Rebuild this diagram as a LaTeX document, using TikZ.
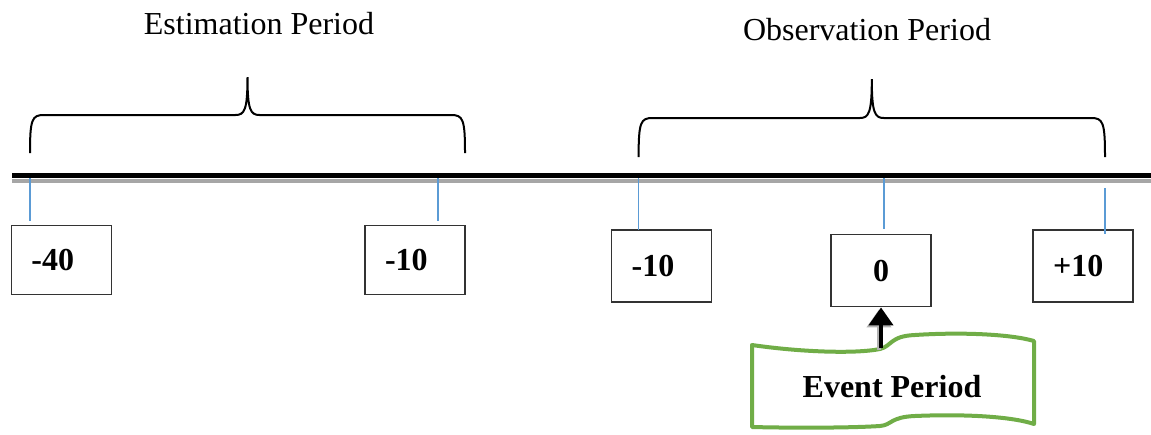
\documentclass[tikz,border=0pt]{standalone}
\usepackage{fontspec}
\setmainfont{Liberation Serif}
\usepackage{tikz}
\usetikzlibrary{positioning,arrows.meta}
\tikzstyle{timeline} = [x = 0.5pt, y = -0.5pt]
\definecolor{tickColor}{HTML}{5B9BD5}
\definecolor{eventColor}{HTML}{70AD47}
\tikzstyle{axisLine} = [color=black, line width=2.5pt]
\tikzstyle{axisShadow} = [color=black!35, line width=2pt]
\tikzstyle{tickLine} = [color=tickColor, line width=0.75pt]
\tikzstyle{braceLine} = [color=black, line width=1pt]
\tikzstyle{dayBox} = [draw=black!80, line width=0.6pt, text width=30pt, align=left, inner xsep=10pt, inner ysep=0pt, minimum height=36pt, font=\fontsize{16}{19}\selectfont\bfseries]
\tikzstyle{periodText} = [font=\fontsize{16}{19}\selectfont]
\tikzstyle{tapeStyle} = [draw=eventColor, fill=white, line width=2pt, line join=round]
\tikzstyle{eventText} = [font=\fontsize{16}{19}\selectfont\bfseries]
\tikzstyle{eventArrow} = [line width=2pt, -{Triangle[length=9pt, width=12pt]}]
\newcommand{\dayMark}[8]{
  \node [dayBox, #8] (#1) at (#2, #3) {#4};
  \coordinate (#1TickTop) at (#5, #6);
  \coordinate (#1TickEnd) at (#5, #7);
  \draw [tickLine] (#1TickTop) -- (#1TickEnd);
}
\newcommand{\periodBrace}[5]{
  \pgfmathsetmacro{\braceMid}{(#1 + #2) / 2}
  \draw [braceLine] (#1, #4) .. controls (#1, #3 + 4) and (#1 + 2, #3) .. (#1 + 14, #3)
    -- (\braceMid - 12, #3) .. controls (\braceMid - 3, #3) and (\braceMid, #3 - 5) .. (\braceMid, #5)
    .. controls (\braceMid, #3 - 5) and (\braceMid + 3, #3) .. (\braceMid + 12, #3)
    -- (#2 - 14, #3) .. controls (#2 - 2, #3) and (#2, #3 + 4) .. (#2, #4);
}
\begin{document}
\begin{tikzpicture}[timeline]
    \useasboundingbox (0, 0) rectangle (1151, 434);
    \node [periodText] (estimation) at (259, 24) {Estimation Period};
    \node [periodText] (observation) at (867, 30) {Observation Period};
    \periodBrace{30}{465}{115}{153}{77}
    \periodBrace{638.6}{1105}{118}{157}{79}
    \coordinate (axisStart) at (12, 180.5);
    \coordinate (axisEnd) at (1151, 180.5);
    \draw [axisShadow] (axisStart) -- (axisEnd);
    \draw [axisLine] ([yshift=2.5pt]axisStart) -- ([yshift=2.5pt]axisEnd);
    \dayMark{dayA}{61.5}{260}{-40}{30}{178}{221}{minimum height=34.3pt}
    \dayMark{dayB}{415}{260}{-10}{438}{178}{221}{minimum height=34.3pt}
    \dayMark{dayC}{661.6}{266}{-10}{638.6}{178}{230}{}
    \dayMark{dayD}{881}{270.8}{0}{884}{178}{229}{align=center}
    \dayMark{dayE}{1083}{266}{+10}{1105}{188}{234}{}
    \draw [tapeStyle] (752, 345) .. controls (800, 352) and (855, 354) .. (880, 349)
      .. controls (892, 346) and (890, 336) .. (915, 335)
      .. controls (960, 332) and (1010, 334) .. (1034, 341) -- (1034, 424)
      .. controls (1010, 416) and (960, 414) .. (915, 416)
      .. controls (890, 417) and (892, 425) .. (880, 426)
      .. controls (850, 428) and (790, 428) .. (752, 427) -- cycle;
    \node [eventText] (event) at (892, 387) {Event Period};
    \coordinate (eventTop) at (881, 348);
    \draw [eventArrow, black!30] ([xshift=-1pt, yshift=-1pt]eventTop) -- ([xshift=-1pt, yshift=-1pt]dayD.south);
    \draw [eventArrow] (eventTop) -- (dayD.south);
\end{tikzpicture}
\end{document}
